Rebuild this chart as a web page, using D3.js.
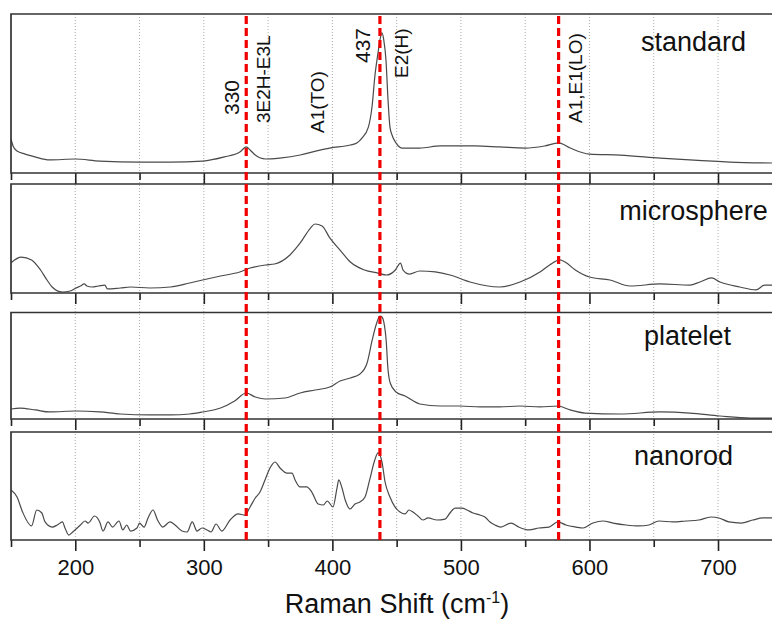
<!DOCTYPE html>
<html lang="en">
	<head>
		<meta charset="utf-8">
		<title>Raman spectra</title>
		<script type="text/javascript" src="https://cdn.jsdelivr.net/npm/d3@7"></script>
		<style type="text/css">
			body { margin: 0; background: #fff; }
			text { font-family: "Liberation Sans", Arial, sans-serif; fill: #111; }
		</style>
	</head>
	<body>
		<script type="text/javascript">

			//Width and height
			var w = 772;
			var h = 619;

			//Spectra: [Raman shift (cm-1), intensity (a.u., 0-100 per panel)]
			var standard = [[150,21.4],[151.6,17],[154.7,13.8],[160.9,11.9],[168.7,10.1],[180,8.2],[200,8.8],[219,7.5],
				[250,6.9],[274,6.9],[299,7.5],[316,10.1],[328,13.2],[333,16.4],[336,14.5],[340,11.3],[348,8.8],[359,9.4],
				[375,11.3],[387,13.8],[398,15.7],[414,17.6],[419,18.9],[423,22],[428,28.9],[431,42.8],[433,60.4],
				[435.5,75.5],[437,83.6],[438.6,88.1],[440,83.6],[441.7,71.1],[443.3,45.9],[444.8,28.9],[446.4,23.9],
				[449.5,18.9],[454,15.7],[468,15.7],[484,17],[511,17],[530,16.4],[550,15.7],[565,17],[576,18.9],
				[585,15.7],[600,11.9],[624,11.3],[655,9.4],[678,8.2],[709,6.9],[742,6.3]];

			var microsphere = [[150,27.8],[158,33],[166,30.3],[173,21.1],[178,11.9],[182,5.5],[190,0.9],[196,1.8],
				[200.6,4.6],[204,6.4],[207,8.3],[209,6.4],[213,5.5],[218,6.4],[223,7.3],[225,3.7],[235,4.6],[243,5.5],
				[258,4.6],[274,5.5],[289,9.2],[299,11.9],[313,15.6],[328,19.3],[336,22.9],[348,25.7],[355,26.6],
				[367,34.9],[375,45.9],[383,59.6],[386.5,63.3],[392,61.5],[398,50.5],[406,39.4],[414,28.4],[425,21.1],
				[435.5,18.3],[442,16.5],[449,21.1],[453,27.5],[455,21.1],[460,17.4],[468,20.2],[480,19.3],[491.5,16.5],
				[507,10.1],[530,5.5],[546,10.1],[561.5,19.3],[569,25.7],[577,30.3],[581,28.4],[589,21.1],[600,14.7],
				[616,11.9],[631.5,6.4],[655,8.3],[678,7.3],[686,10.1],[695,13.8],[701.5,10.1],[717,5.5],[729.5,2.8],
				[736.5,7.3],[742,7.3]];

			var platelet = [[150,9.4],[157,10.3],[169,8.5],[180,6.6],[200.6,7.5],[219,6.6],[235,4.7],[258,3.8],
				[274,3.8],[289,4.7],[299,6.6],[313,10.3],[324,16.9],[333,24.4],[340,20.7],[348,18.8],[363,19.7],
				[375,24.4],[386.5,27.2],[398,30],[406,35.7],[414,38.5],[421.5,42.3],[427,52.6],[431,74.2],[434,88.3],
				[437,96.7],[438.6,95.8],[440,91.1],[442,71.4],[443,50.7],[445,33.8],[449.5,25.4],[456.5,21.6],
				[468,14.1],[484,12.2],[499,12.2],[515,11.3],[530,11.3],[546,12.2],[561.5,11.3],[575.5,12.2],[585,8.5],
				[596.5,5.6],[624,4.7],[655,6.6],[678,5.6],[701.5,2.8],[725,0.9],[742,0.9]];

			var nanorod = [[150,46.3],[154.7,39.8],[159,25.9],[166,13],[170,27.8],[174,25],[176.5,16.7],[182,12],
				[186,13.9],[190,16.7],[192,11.1],[195,4.6],[198,7.4],[204,13.9],[207.6,17.6],[210,15.7],[215,22.2],
				[219,16.7],[221.6,8.3],[225.5,16.7],[229,12],[234,17.6],[237,9.3],[240,13.9],[243,8.3],[248,11.1],
				[250,15.7],[253.5,12],[256.6,20.4],[260.5,27.8],[264,18.5],[268,12],[273.7,16.7],[277.6,13.9],
				[283,8.3],[287,7.4],[291,16.7],[294.7,8.3],[298.6,11.1],[302.5,9.3],[305.6,7.4],[309.5,14.8],
				[314,8.3],[320.4,18.5],[326.6,24.1],[332,23.1],[336,30.6],[340,38.9],[343.7,44.4],[347.6,55.6],
				[351.5,66.7],[355.4,72.2],[359.3,66.7],[364.7,62],[368.6,62],[371,55.6],[374.8,49.1],[380,49.1],
				[384,44.4],[389,33.3],[393,32.4],[396,36.1],[400.5,30.6],[403.6,48.1],[405,55.6],[407.5,48.1],
				[410,37],[413.7,28.7],[417.6,33.3],[421.5,35.2],[425.4,39.8],[429,55.6],[433,74.1],[435.5,80.6],
				[438.6,72.2],[441,53.7],[444.8,39.8],[448.7,30.6],[452.6,25.9],[456.5,24.1],[459.6,27.8],[462.7,25.9],
				[466.6,22.2],[470.5,18.5],[474.4,20.4],[481.4,18.5],[487.6,19.4],[491.5,25],[495.4,29.6],[500.8,29.6],
				[504.7,27.8],[509.4,25],[514.8,23.1],[518.7,21.3],[522.6,16.7],[526.5,13.9],[531,12],[539,15.7],
				[545,12],[553,9.3],[560.7,11.1],[568.5,12],[575.5,16.7],[581.7,13.9],[589.5,12],[595,11.1],
				[602.7,15.7],[610.5,17.6],[618.3,15.7],[628.4,13.9],[638.5,13],[646.3,13.9],[654,17.6],[665,16.7],
				[675,17.6],[685,18.5],[694.5,21.3],[700.8,20.4],[708.5,16.7],[718,15.7],[727,18.5],[735,20.4],[742,20.4]];

			var sampleNames = ["standard", "microsphere", "platelet", "nanorod"];
			var peakShifts = [333, 437, 576];
			var majorTicks = [200, 300, 400, 500, 600, 700];
			var minorTicks = [150, 250, 350, 450, 550, 650];
			var gridValues = [200, 250, 300, 350, 400, 450, 500, 550, 600, 650, 700];

			//Mode annotations (text, shift in cm-1)
			var modeLabels = ["330", "3E2H-E3L", "A1(TO)", "437", "E2(H)", "A1,E1(LO)"];
			var modeShifts = [327.4, 351.5, 393.5, 429.3, 458.8, 594];

			//Panel layout
			var left = 11, right = 773;
			var panels = [
				{ name: sampleNames[0], data: standard,    top: 14,    bottom: 173, labelY: 51 },
				{ name: sampleNames[1], data: microsphere, top: 184,   bottom: 293, labelY: 220 },
				{ name: sampleNames[2], data: platelet,    top: 312.5, bottom: 419, labelY: 345 },
				{ name: sampleNames[3], data: nanorod,     top: 432,   bottom: 540, labelY: 465 }
			];
			var labelX = [693.5, 693.5, 687.5, 683.5];
			var modeY = [115, 123, 133, 63, 78, 123];
			var modeSize = [21, 19, 19, 21, 19, 19];

			var xScale = d3.scaleLinear()
						   .domain([150, 742])
						   .range([left, right - 1]);

			//Create SVG element
			var svg = d3.select("body")
						.append("svg")
						.attr("width", w)
						.attr("height", h);

			//Dotted grid
			svg.selectAll("line.grid")
			   .data(gridValues)
			   .enter()
			   .append("line")
			   .attr("class", "grid")
			   .attr("x1", function(d) { return xScale(d); })
			   .attr("x2", function(d) { return xScale(d); })
			   .attr("y1", panels[0].top)
			   .attr("y2", panels[3].bottom)
			   .attr("stroke", "#aaa")
			   .attr("stroke-width", 1)
			   .attr("stroke-dasharray", "1,2");

			panels.forEach(function(p, i) {
				var yScale = d3.scaleLinear()
							   .domain([0, 100])
							   .range([p.bottom, p.top]);

				var g = svg.append("g");

				//clip
				svg.append("clipPath")
				   .attr("id", "clip" + i)
				   .append("rect")
				   .attr("x", left)
				   .attr("y", p.top)
				   .attr("width", right - left)
				   .attr("height", p.bottom - p.top);

				var line = d3.line()
							 .x(function(d) { return xScale(d[0]); })
							 .y(function(d) { return yScale(d[1]); })
							 .curve(d3.curveMonotoneX);

				g.append("path")
				 .datum(p.data)
				 .attr("clip-path", "url(#clip" + i + ")")
				 .attr("d", line)
				 .attr("fill", "none")
				 .attr("stroke", "#4a4a4a")
				 .attr("stroke-width", 1.2);

				//minor ticks
				g.append("g")
				 .attr("transform", "translate(0," + p.bottom + ")")
				 .call(d3.axisBottom(xScale).tickValues(minorTicks).tickSize(7).tickFormat(""))
				 .call(function(a) { a.select(".domain").remove(); })
				 .selectAll("line").attr("stroke", "#222").attr("stroke-width", 1.6);

				//major ticks
				var ax = g.append("g")
				 .attr("transform", "translate(0," + p.bottom + ")")
				 .call(d3.axisBottom(xScale).tickValues(majorTicks).tickSize(11).tickPadding(8)
					 .tickFormat(i === 3 ? d3.format("d") : ""));
				ax.select(".domain").remove();
				ax.selectAll("line").attr("stroke", "#222").attr("stroke-width", 1.6);
				ax.selectAll("text")
				  .attr("font-size", 22)
				  .attr("font-family", "Liberation Sans, Arial, sans-serif")
				  .attr("fill", "#111");

				//frame: top, left, bottom
				g.append("path")
				 .attr("d", "M" + right + "," + p.top + "H" + left + "V" + p.bottom + "H" + right)
				 .attr("fill", "none")
				 .attr("stroke", "#333")
				 .attr("stroke-width", 1.7);

				g.append("text")
				 .attr("x", labelX[i])
				 .attr("y", p.labelY)
				 .attr("text-anchor", "middle")
				 .attr("font-size", 27)
				 .text(p.name);
			});

			//Red peak markers
			svg.selectAll("line.peak")
			   .data(peakShifts)
			   .enter()
			   .append("line")
			   .attr("class", "peak")
			   .attr("x1", function(d) { return xScale(d); })
			   .attr("x2", function(d) { return xScale(d); })
			   .attr("y1", panels[0].top + 2)
			   .attr("y2", panels[3].bottom)
			   .attr("stroke", "#f00000")
			   .attr("stroke-width", 3.2)
			   .attr("stroke-dasharray", "8,4");

			//Mode labels (rotated)
			svg.selectAll("text.mode")
			   .data(modeLabels)
			   .enter()
			   .append("text")
			   .attr("class", "mode")
			   .attr("transform", function(d, i) {
					return "translate(" + xScale(modeShifts[i]) + "," + modeY[i] + ") rotate(-90)";
			   })
			   .attr("font-size", function(d, i) { return modeSize[i]; })
			   .text(function(d) { return d; });

			//Axis title
			var title = svg.append("text")
						   .attr("x", 397)
						   .attr("y", 613)
						   .attr("text-anchor", "middle")
						   .attr("font-size", 27);
			title.append("tspan").text("Raman Shift (cm");
			title.append("tspan").attr("dy", -10).attr("font-size", 16).text("-1");
			title.append("tspan").attr("dy", 10).text(")");

		</script>
	</body>
</html>
